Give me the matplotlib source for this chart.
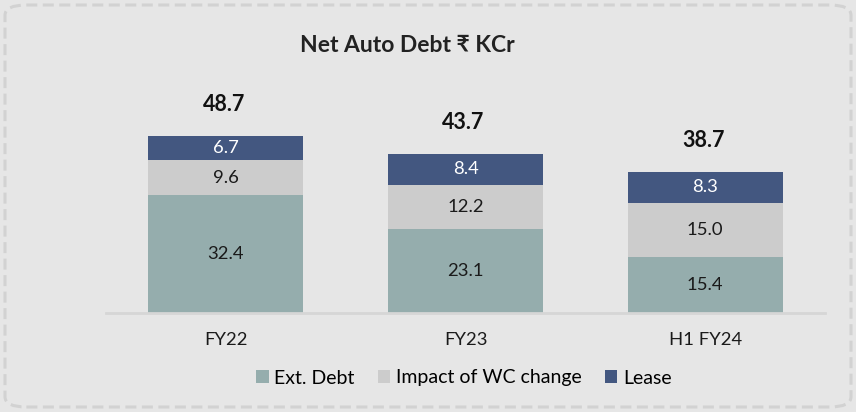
import matplotlib
matplotlib.use("Agg")
import matplotlib.pyplot as plt
from matplotlib.patches import FancyBboxPatch, Patch

# data
categories = ["FY22", "FY23", "H1 FY24"]
ext_debt = [32.4, 23.1, 15.4]
wc_change = [9.6, 12.2, 15.0]
lease = [6.7, 8.4, 8.3]
totals = [48.7, 43.7, 38.7]
series_names = ["Ext. Debt", "Impact of WC change", "Lease"]

colors = ["#95adad", "#cccccc", "#435780"]
label_colors = ["#1a1a1a", "#1a1a1a", "#ffffff"]
bg = "#e6e6e6"

plt.rcParams["font.family"] = ["Lato", "DejaVu Sans"]

W, H = 856, 412
fig = plt.figure(figsize=(W / 100, H / 100), dpi=100, facecolor=bg)

# dashed rounded frame
frame = FancyBboxPatch((5 / W, 5 / H), 1 - 10 / W, 1 - 10 / H,
                       boxstyle="round,pad=0,rounding_size=0.025",
                       transform=fig.transFigure, facecolor="none",
                       edgecolor="#d2d2d2", linewidth=2.2,
                       linestyle=(0, (3.6, 1.8)))
fig.patches.append(frame)

ax = fig.add_axes([106 / W, 99 / H, 719 / W, 218 / H])
ax.set_facecolor(bg)

x = range(len(categories))
bottom = [0.0] * len(categories)
for vals, name, col, lcol in zip([ext_debt, wc_change, lease], series_names,
                                 colors, label_colors):
    bars = ax.bar(x, vals, width=0.646, bottom=bottom, color=col, label=name)
    for b, v in zip(bars, vals):
        ax.text(b.get_x() + b.get_width() / 2, b.get_y() + b.get_height() / 2,
                f"{v:.1f}", ha="center", va="center", fontsize=13.3, color=lcol)
    bottom = [b0 + v for b0, v in zip(bottom, vals)]

for xi, top, tot in zip(x, bottom, totals):
    ax.annotate(f"{tot:.1f}", (xi, top), xytext=(-1.5, 23),
                textcoords="offset points", ha="center", va="center",
                fontsize=15.5, fontweight="bold", color="#111111")

ax.set_xlim(-0.5, 2.5)
ax.set_ylim(0, 60)
ax.set_yticks([])
ax.set_xticks(list(x))
ax.set_xticklabels(categories, fontsize=13.3, color="#1a1a1a")
ax.tick_params(axis="x", length=0, pad=14)
for s in ["top", "left", "right"]:
    ax.spines[s].set_visible(False)
ax.spines["bottom"].set_color("#d6d6d6")
ax.spines["bottom"].set_linewidth(2)

fig.text(407 / W, 1 - 45 / H, "Net Auto Debt ₹ KCr", ha="center", va="center",
         fontsize=16.5, fontweight="bold", color="#222222")

handles = [Patch(facecolor=c, label=n) for c, n in zip(colors, series_names)]
fig.legend(handles=handles, loc="center", bbox_to_anchor=(464 / W, 1 - 378 / H),
           ncol=3, frameon=False, fontsize=14, handlelength=0.62,
           handleheight=0.62, handletextpad=0.3, columnspacing=1.2)

fig.savefig("out.png", dpi=100, facecolor=bg)
